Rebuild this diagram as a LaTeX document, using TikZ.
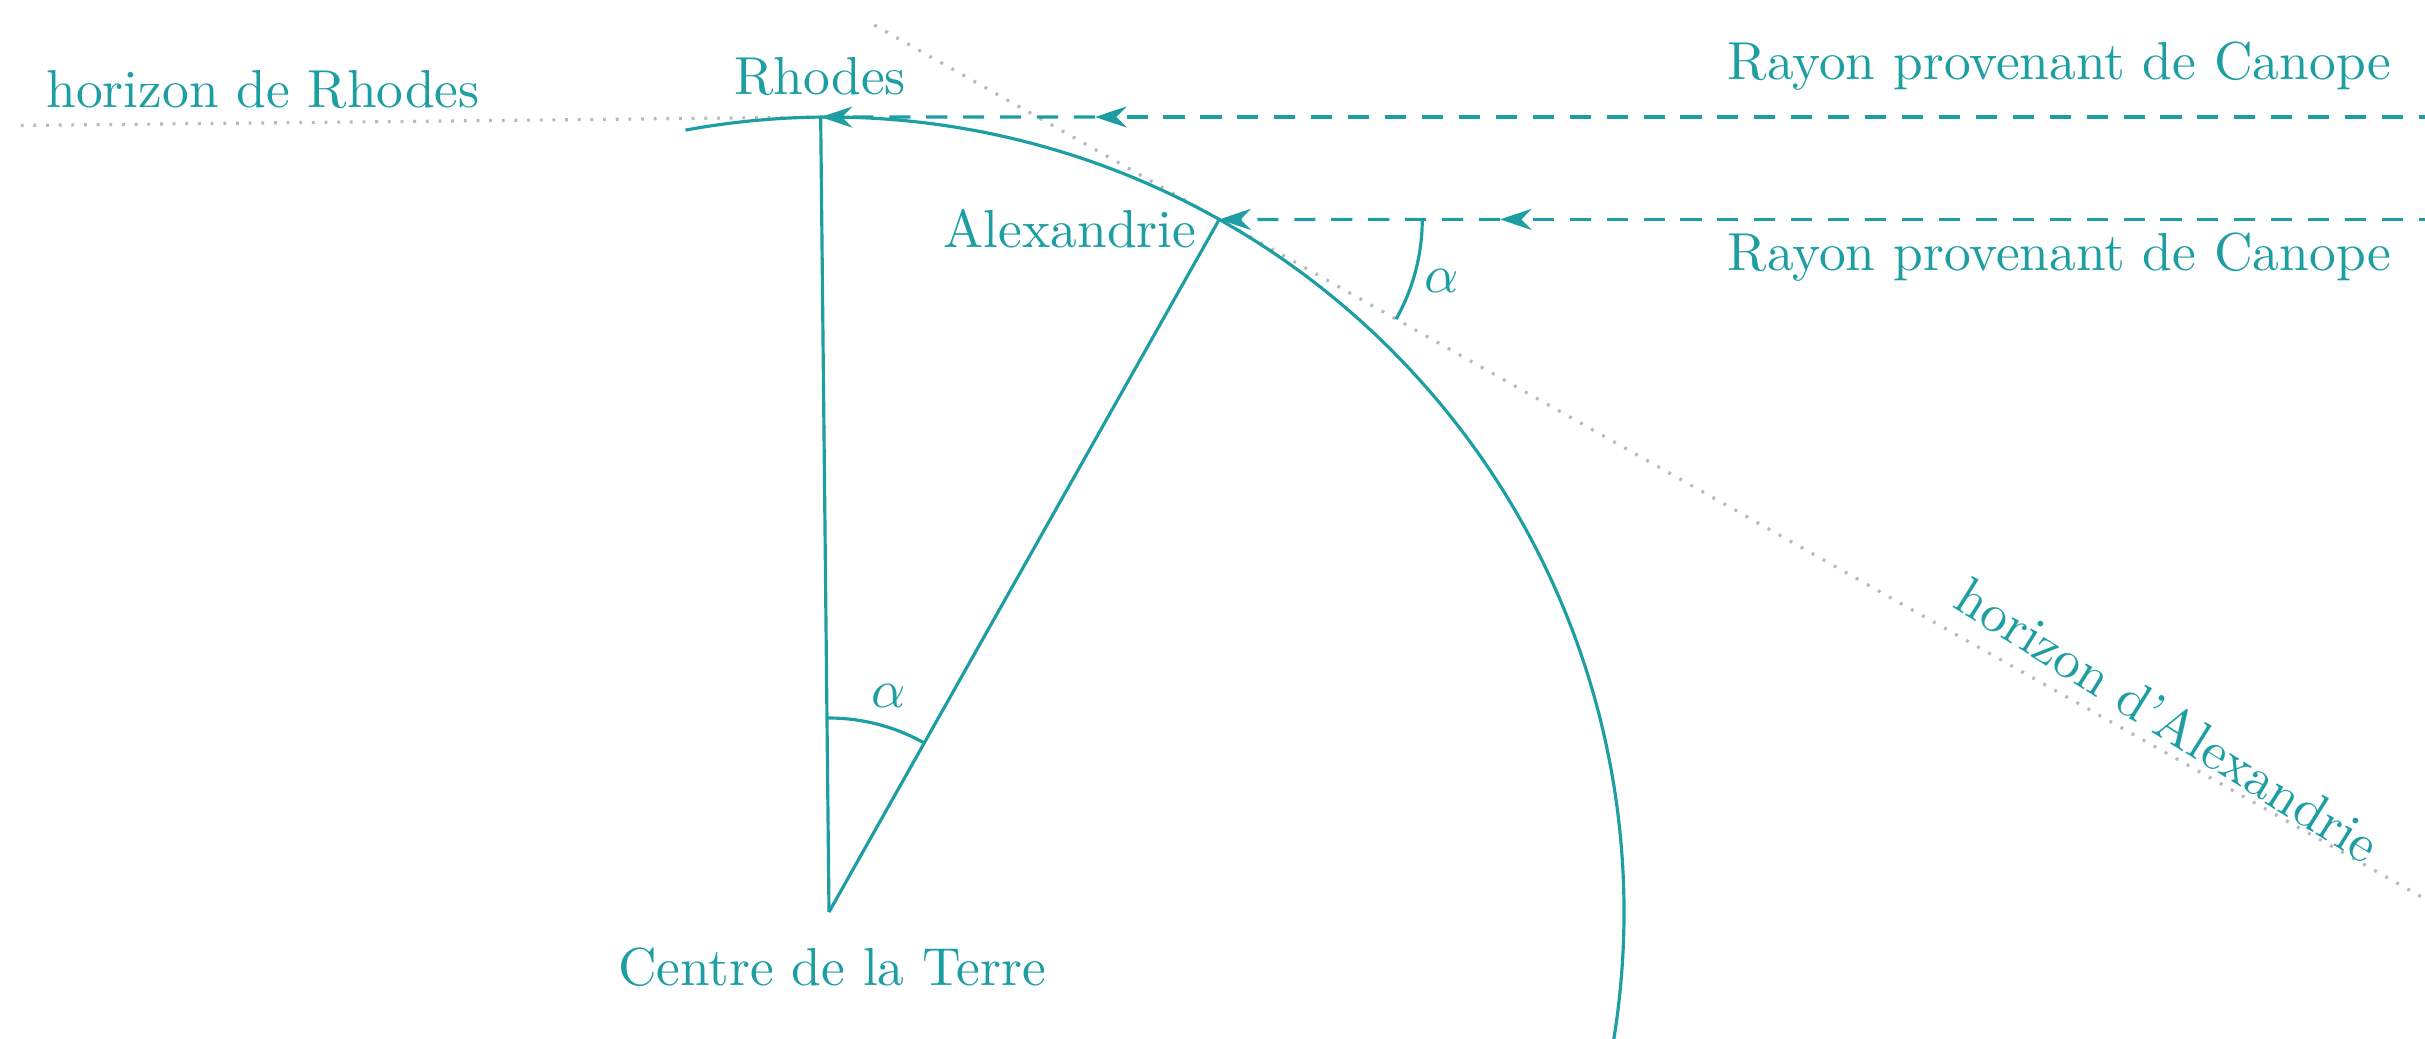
\documentclass[tikz,border=0pt]{standalone}
\usetikzlibrary{arrows.meta,calc}
\definecolor{tealc}{RGB}{28,158,162}
\begin{document}
\begin{tikzpicture}[x=0.01cm,y=0.01cm,
  every node/.style={text=tealc,font=\fontsize{10}{12}\selectfont,inner sep=0pt,scale=1.52},
  earth/.style={draw=tealc,line width=0.9pt},
  ray/.style={draw=tealc,line width=0.9pt,dash pattern=on 6pt off 4.5pt},
  tipa/.style={-{Stealth[length=9pt,width=6pt]}},
  horiz/.style={draw=gray!55,line width=0.9pt,dash pattern=on 0.8pt off 2.8pt}]
\useasboundingbox (0,0) rectangle (2425,1038);
\clip (0,0) rectangle (2425,1038);
% key points
\coordinate (C) at (829,126);
\coordinate (R) at ($(C)+(90.6:795)$);
\coordinate (A) at ($(C)+(60.6:795)$);
% horizons
\coordinate (hr) at ($(R)+(180.6:800)$);
\coordinate (ha1) at ($(A)+(150.6:396)$);
\coordinate (ha2) at ($(A)+(-29.4:1400)$);
\draw[horiz] (hr) -- (R);
\draw[horiz] (ha1) -- (ha2);
% earth
\draw[earth] (C) ++(100.4:795) arc[start angle=100.4,end angle=-14,radius=795];
\draw[earth] (C) -- (R);
\draw[earth] (C) -- (A);
% angle at centre
\draw[earth] (C) ++(90.6:194) arc[start angle=90.6,end angle=60.6,radius=194];
\node (a1) at ($(C)+(74.5:224)$) {$\alpha$};
% rays
\coordinate (r1) at (2440,921);
\coordinate (m1) at (1095,921);
\coordinate (r2) at (2440,818.6);
\coordinate (m2) at (1500,818.6);
\draw[ray,tipa] (r1) -- (m1);
\draw[ray,tipa] (m1) -- (R);
\draw[ray,tipa] (r2) -- (m2);
\draw[ray,tipa] (m2) -- (A);
% angle at Alexandrie
\draw[earth] (A) ++(0:203) arc[start angle=0,end angle=-29.4,radius=203];
\node (a2) at ($(A)+(-15.5:231)$) {$\alpha$};
% labels
\node (lhr) at (263,948) {horizon de Rhodes};
\node (lR) at (820,961) {Rhodes};
\node (lA) at (1070,809) {Alexandrie};
\node (lC) at (832,71) {Centre de la Terre};
\node[anchor=east] (l1) at (2392,972) {Rayon provenant de Canope};
\node[anchor=east] (l2) at (2392,781) {Rayon provenant de Canope};
\node[rotate=-32] (lha) at (2168,318) {horizon d'Alexandrie};
\end{tikzpicture}
\end{document}
